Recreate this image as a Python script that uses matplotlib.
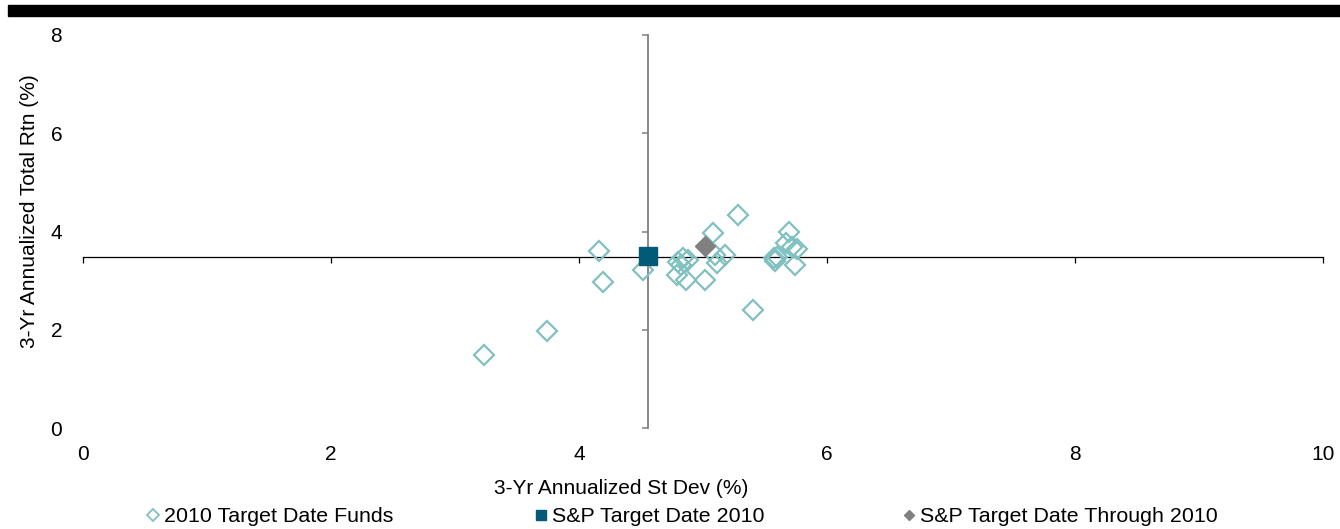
import matplotlib
matplotlib.use("Agg")
import matplotlib.pyplot as plt
from matplotlib.lines import Line2D
from matplotlib.patches import Rectangle

plt.rcParams['font.family'] = ['Liberation Sans', 'DejaVu Sans']

# ---- data ----
fund_sd = [3.23, 3.74, 4.16, 4.19, 4.52, 4.80, 4.84, 4.88, 4.82, 4.79, 4.86, 5.02,
           5.08, 5.28, 5.10, 5.18, 5.11, 5.40, 5.69, 5.72, 5.76, 5.60, 5.57, 5.74,
           5.67, 5.58]
fund_ret = [1.48, 1.97, 3.60, 2.97, 3.21, 3.37, 3.46, 3.42, 3.31, 3.11, 3.01, 3.01,
            3.96, 4.33, 3.52, 3.52, 3.35, 2.40, 4.00, 3.68, 3.64, 3.48, 3.46, 3.31,
            3.76, 3.39]
sp2010_sd = [4.56]
sp2010_ret = [3.51]
through_sd = [5.02]
through_ret = [3.70]
series_names = ["2010 Target Date Funds", "S&P Target Date 2010", "S&P Target Date Through 2010"]
x_ticks = [0, 2, 4, 6, 8, 10]
y_ticks = [0, 2, 4, 6, 8]
x_label = "3-Yr Annualized St Dev (%)"
y_label = "3-Yr Annualized Total Rtn (%)"

teal = "#80C0C0"
navy = "#005A78"
grey = "#808080"
FS = 15
LFS = 15.4

W, H = 1340, 529
fig = plt.figure(figsize=(W / 100, H / 100), dpi=100)
pos = [83 / W, 1 - 428 / H, (1323 - 83) / W, (428 - 35) / H]
ax = fig.add_axes(pos)

ax.set_xlim(0, 10)
ax.set_ylim(0, 8)

ax.plot(fund_sd, fund_ret, linestyle='none', marker='D', ms=10, mfc='none',
        mec=teal, mew=1.6, zorder=3)
ax.plot(sp2010_sd, sp2010_ret, linestyle='none', marker='s', ms=13.5, color=navy, zorder=4)
ax.plot(through_sd, through_ret, linestyle='none', marker='D', ms=10, color=grey, zorder=4)

# spines crossing at the S&P Target Date 2010 point
for s in ['top', 'right']:
    ax.spines[s].set_visible(False)
ax.spines['left'].set_position(('data', sp2010_sd[0]))
ax.spines['bottom'].set_position(('data', 3.49))
ax.spines['left'].set_color(grey)
ax.spines['left'].set_linewidth(1.3)
ax.spines['bottom'].set_color('black')
ax.spines['bottom'].set_linewidth(0.9)
ax.spines['left'].set_zorder(1)
ax.spines['bottom'].set_zorder(1)
ax.set_xticks(x_ticks)
ax.set_yticks(y_ticks)
ax.tick_params(axis='x', direction='out', length=4, width=0.9, color='black', labelbottom=False)
ax.tick_params(axis='y', direction='out', length=4, width=1.1, color=grey, labelleft=False)

# overlay axes for tick labels at the edges
ax2 = fig.add_axes(pos, frameon=False)
ax2.set_xlim(0, 10)
ax2.set_ylim(0, 8)
ax2.set_xticks(x_ticks)
ax2.set_yticks(y_ticks)
ax2.tick_params(axis='both', length=0, labelsize=FS, colors='black')
ax2.tick_params(axis='x', pad=12)
ax2.tick_params(axis='y', pad=15)
ax2.patch.set_visible(False)

fig.text(621 / W, 1 - 489 / H, x_label, ha='center', va='center', fontsize=FS)
fig.text(30 / W, 1 - 211 / H, y_label, ha='center', va='center', rotation=90, fontsize=FS)

# black bar at top
fig.patches.append(Rectangle((8 / W, 1 - 16 / H), 1 - 8 / W, 11 / H,
                             transform=fig.transFigure, color='black', zorder=5))

handles = [
    Line2D([], [], linestyle='none', marker='D', ms=6, mfc='none', mec=teal, mew=1.3),
    Line2D([], [], linestyle='none', marker='s', ms=7.5, color=navy),
    Line2D([], [], linestyle='none', marker='D', ms=5.2, color=grey),
]
marker_px = [153, 541, 909]
em_px = LFS * 100 / 72
for h, name, mx in zip(handles, series_names, marker_px):
    x0 = mx - 0.3 * em_px
    fig.legend([h], [name], loc='center left', bbox_to_anchor=(x0 / W, 1 - 517 / H),
               frameon=False, fontsize=LFS, handlelength=0.6, handletextpad=0.21,
               borderpad=0, borderaxespad=0)

fig.savefig("out.png", dpi=100)
